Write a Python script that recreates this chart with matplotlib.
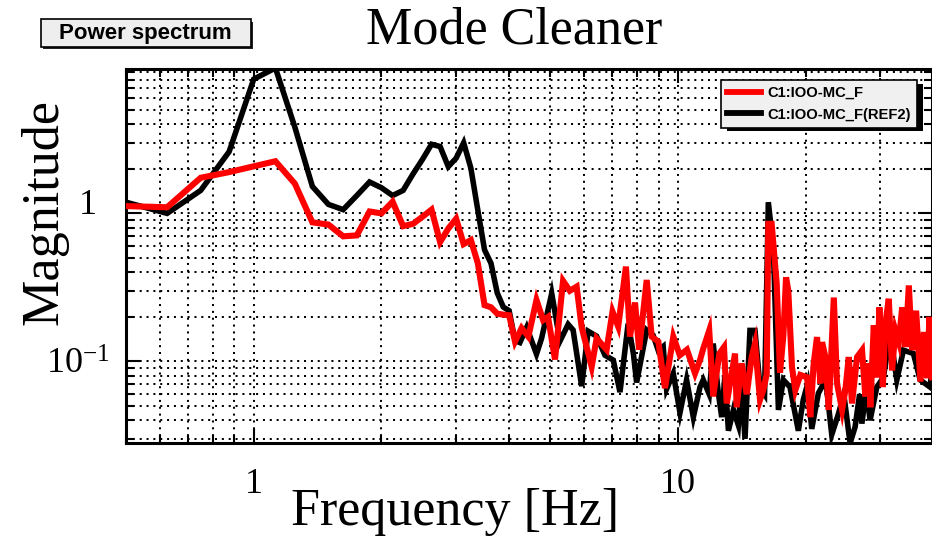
import matplotlib
matplotlib.use("Agg")
import matplotlib.pyplot as plt
import matplotlib.transforms as mtransforms
from matplotlib.lines import Line2D
from matplotlib.patches import Rectangle
from matplotlib.ticker import FixedLocator, FixedFormatter, LogLocator, NullFormatter

# ---- spectrum data -------------------------------------------------------
# low band, 0.125 Hz bins shared by both traces
freq_low = [0.5, 0.625, 0.75, 0.875, 1.0, 1.125, 1.25, 1.375, 1.5, 1.625,
            1.75, 1.875, 2.0, 2.125, 2.25, 2.375, 2.5, 2.625, 2.75, 2.875,
            3.0, 3.125, 3.25, 3.375, 3.5, 3.625, 3.75, 3.875, 4.0]
mc_f_low = [1.12, 1.10, 1.74, 1.90, 2.08, 2.25, 1.59, 0.87, 0.84, 0.70,
            0.71, 1.03, 1.00, 1.20, 0.82, 0.85, 0.95, 1.06, 0.64, 0.79,
            0.92, 0.62, 0.66, 0.46, 0.24, 0.232, 0.21, 0.207, 0.205]
ref2_low = [1.19, 1.00, 1.43, 2.61, 8.07, 9.6, 3.83, 1.52, 1.15, 1.06,
            1.32, 1.63, 1.49, 1.32, 1.43, 1.85, 2.32, 2.93, 2.83, 2.07,
            2.36, 3.00, 2.02, 1.05, 0.567, 0.46, 0.29, 0.233, 0.22]

# high band, C1:IOO-MC_F
mc_f_freq_hi = [4.13, 4.28, 4.44, 4.64, 4.81, 4.94, 5.13, 5.36, 5.56, 5.77,
                5.93, 6.26, 6.43, 6.79, 7.01, 7.23, 7.54, 7.71, 7.92, 8.10,
                8.44, 8.67, 8.99, 9.32, 9.75, 10.1, 10.5, 10.97, 11.27, 11.47,
                11.85, 12.11, 12.52, 12.84, 13.03, 13.63, 13.75, 14.13, 14.52, 14.92,
                15.19, 15.61, 15.89, 16.19, 16.33, 16.63, 17.09, 17.40, 17.72, 17.98,
                18.20, 18.57, 18.91, 19.43, 20.15, 20.51, 20.89, 21.27, 21.66, 21.86,
                22.26, 22.67, 23.30, 23.71, 24.37, 24.81, 25.27, 25.72, 26.43, 27.16,
                27.65, 28.17, 28.41, 28.94, 29.46, 29.84, 30.40, 30.83, 31.40, 31.97,
                32.55, 33.16, 33.76, 34.37, 35.01, 35.64, 36.42, 37.29, 37.98, 38.67,
                39.15, 39.72]
mc_f_mag_hi = [0.136, 0.168, 0.147, 0.26, 0.19, 0.20, 0.103, 0.35, 0.30, 0.32,
               0.17, 0.092, 0.143, 0.12, 0.217, 0.172, 0.437, 0.147, 0.25, 0.12,
               0.355, 0.147, 0.136, 0.066, 0.147, 0.11, 0.12, 0.083, 0.102, 0.122,
               0.162, 0.058, 0.113, 0.125, 0.052, 0.113, 0.049, 0.097, 0.060, 0.107,
               0.132, 0.055, 0.064, 0.082, 0.85, 0.85, 0.335, 0.084, 0.15, 0.37,
               0.30, 0.091, 0.064, 0.081, 0.078, 0.042, 0.097, 0.146, 0.071, 0.135,
               0.107, 0.047, 0.27, 0.071, 0.047, 0.064, 0.107, 0.052, 0.107, 0.119,
               0.058, 0.097, 0.049, 0.175, 0.078, 0.232, 0.067, 0.18, 0.265, 0.087,
               0.162, 0.135, 0.232, 0.125, 0.326, 0.119, 0.22, 0.073, 0.158, 0.077,
               0.20, 0.078]

# high band, C1:IOO-MC_F(REF2)
ref2_freq_hi = [4.13, 4.24, 4.40, 4.64, 4.77, 5.04, 5.27, 5.51, 5.66, 5.93,
                6.14, 6.43, 6.73, 7.04, 7.30, 7.63, 7.85, 7.99, 8.44, 8.74,
                8.99, 9.23, 9.40, 9.75, 10.11, 10.48, 10.87, 11.27, 11.47, 11.85,
                12.11, 12.45, 12.68, 12.9, 13.15, 13.51, 13.88, 14.1, 14.39, 14.78,
                15.19, 15.61, 16.0, 16.33, 16.78, 17.25, 17.72, 18.37, 19.22, 19.74,
                20.2, 20.67, 21.43, 22.3, 23.04, 23.88, 24.6, 25.45, 26.15, 26.8,
                27.13, 27.8, 28.37, 29.42, 30.50, 31.62, 32.80, 34.00, 35.89, 37.23,
                39.29, 39.72]
ref2_mag_hi = [0.138, 0.134, 0.17, 0.112, 0.143, 0.288, 0.137, 0.178, 0.163, 0.068,
               0.16, 0.148, 0.11, 0.102, 0.062, 0.18, 0.113, 0.072, 0.163, 0.15,
               0.118, 0.126, 0.065, 0.083, 0.045, 0.075, 0.042, 0.067, 0.075, 0.06,
               0.132, 0.061, 0.042, 0.08, 0.034, 0.047, 0.037, 0.07, 0.030, 0.162,
               0.162, 0.067, 0.06, 1.19, 0.59, 0.047, 0.075, 0.067, 0.034, 0.055,
               0.07, 0.035, 0.061, 0.075, 0.032, 0.044, 0.06, 0.028, 0.036, 0.06,
               0.038, 0.065, 0.040, 0.067, 0.078, 0.154, 0.075, 0.119, 0.113, 0.075,
               0.067, 0.09]

series_names = ["C1:IOO-MC_F", "C1:IOO-MC_F(REF2)"]
series_colors = ["#ff0000", "#000000"]

xticks = [1, 10]
xtick_labels = ["1", "10"]
yticks = [0.1, 1]
ytick_labels = [r"$10^{-1}$", "1"]

# ---- figure --------------------------------------------------------------
plt.rcParams["mathtext.fontset"] = "custom"
plt.rcParams["mathtext.rm"] = "Liberation Serif"
plt.rcParams["mathtext.it"] = "Liberation Serif:italic"
serif = "Liberation Serif"
sans = "Liberation Sans"

W, H = 932, 538
fig = plt.figure(figsize=(W / 100, H / 100), dpi=100)
fig.patch.set_facecolor("white")


def px(x, y):
    """figure-fraction coordinates from pixel position (origin top-left)"""
    return x / W, 1 - y / H


ax_l, ax_r, ax_t, ax_b = 126, 932, 69, 443
ax = fig.add_axes([ax_l / W, 1 - ax_b / H, (ax_r - ax_l) / W, (ax_b - ax_t) / H])
ax.set_xscale("log")
ax.set_yscale("log")
ax.set_xlim(0.5, 39.7)
ax.set_ylim(0.0281, 9.45)

ax.plot(freq_low + ref2_freq_hi, ref2_low + ref2_mag_hi, color=series_colors[1],
        lw=4.0, solid_joinstyle="miter", zorder=3)
ax.plot(freq_low + mc_f_freq_hi, mc_f_low + mc_f_mag_hi, color=series_colors[0],
        lw=4.4, solid_joinstyle="miter", zorder=4)

# ticks and grid
ax.xaxis.set_major_locator(FixedLocator(xticks))
ax.xaxis.set_major_formatter(FixedFormatter(xtick_labels))
ax.xaxis.set_minor_locator(LogLocator(base=10, subs=range(2, 10), numticks=30))
ax.xaxis.set_minor_formatter(NullFormatter())
ax.yaxis.set_major_locator(FixedLocator(yticks))
ax.yaxis.set_major_formatter(FixedFormatter(ytick_labels))
ax.yaxis.set_minor_locator(LogLocator(base=10, subs=range(2, 10), numticks=30))
ax.yaxis.set_minor_formatter(NullFormatter())

ax.grid(which="both", color="black", linestyle=(0, (1.0, 2.4)), linewidth=1.45)
ax.set_axisbelow(True)
ax.tick_params(which="both", direction="in", top=True, right=True,
               width=1.5, color="black")
ax.tick_params(which="major", length=10)
ax.tick_params(which="minor", length=6)
ax.tick_params(axis="x", which="major", pad=18, labelsize=26)
ax.tick_params(axis="y", which="major", pad=11.5, labelsize=26)
for lab in ax.get_xticklabels() + ax.get_yticklabels():
    lab.set_fontfamily(serif)
for sp in ax.spines.values():
    sp.set_linewidth(2.2)

# the "1" label sits above its tick and further left
ylabs = ax.get_yticklabels()
shift = mtransforms.ScaledTranslation(-13 / 100, 12 / 100, fig.dpi_scale_trans)
ylabs[1].set_transform(ylabs[1].get_transform() + shift)

# axis titles and heading
fig.text(*px(455, 525), "Frequency [Hz]", family=serif, fontsize=37.5,
         ha="center", va="baseline")
fig.text(*px(58, 212), "Magnitude", family=serif, fontsize=37.5, rotation=90,
         rotation_mode="anchor", ha="center", va="baseline")
fig.text(*px(514, 44), "Mode Cleaner", family=serif, fontsize=37.5,
         ha="center", va="baseline")

# "Power spectrum" tag
bx0, by0, bx1, by1 = 40.7, 19.3, 250.7, 46.7
fig.patches.append(Rectangle(px(bx0 + 2.5, by1 + 2.5), (bx1 - bx0) / W, (by1 - by0) / H,
                             transform=fig.transFigure, facecolor="#222222",
                             edgecolor="none", zorder=1))
fig.patches.append(Rectangle(px(bx0, by1), (bx1 - bx0) / W, (by1 - by0) / H,
                             transform=fig.transFigure, facecolor="#eeeeee",
                             edgecolor="black", linewidth=1.2, zorder=2))
fig.text(*px((bx0 + bx1) / 2, (by0 + by1) / 2 + 1), "Power spectrum", family=sans,
         fontweight="bold", fontsize=16, ha="center", va="center", zorder=3)

# legend with a hard drop shadow
handles = [Line2D([], [], color=c, lw=4.2) for c in series_colors]
leg = ax.legend(handles, series_names, loc="upper left",
                bbox_to_anchor=px(720.7, 80), bbox_transform=fig.transFigure,
                borderaxespad=0, frameon=True, fancybox=False, shadow=False,
                edgecolor="black", facecolor="#f0f0f0", framealpha=1,
                prop={"family": sans, "weight": "bold", "size": 10.6},
                handlelength=2.3, handletextpad=0.42, borderpad=0.42,
                labelspacing=0.5)
leg.get_frame().set_linewidth(1.2)
leg.set_zorder(6)

fig.canvas.draw()
bb = leg.get_window_extent()
ax.add_patch(Rectangle((bb.x0 + 6, bb.y0 - 3.5), bb.width, bb.height,
                       transform=mtransforms.IdentityTransform(),
                       facecolor="black", edgecolor="none", zorder=5.5,
                       clip_on=False))

fig.savefig("out.png", dpi=100)
